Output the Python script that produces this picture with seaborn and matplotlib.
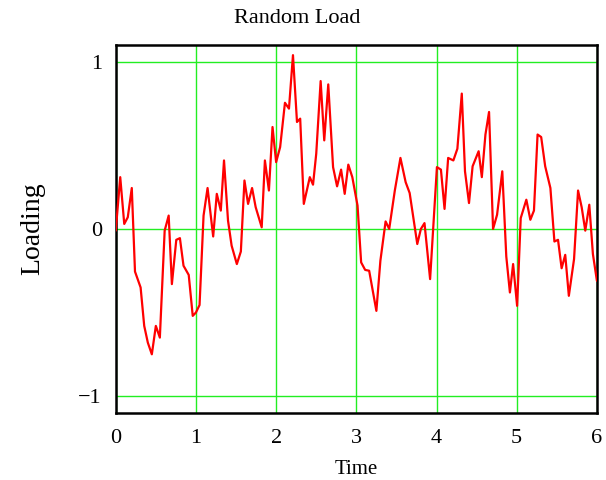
import matplotlib
matplotlib.use("Agg")
import matplotlib.pyplot as plt
import seaborn as sns
import pandas as pd

time = [0.0, 0.056, 0.106, 0.15, 0.2, 0.24, 0.31, 0.355, 0.40, 0.45, 0.50, 0.55, 0.61, 0.66, 0.70,
        0.755, 0.80, 0.845, 0.91, 0.96, 1.0, 1.045, 1.095, 1.145, 1.215, 1.26, 1.31, 1.35, 1.40,
        1.445, 1.51, 1.56, 1.605, 1.65, 1.70, 1.745, 1.82, 1.86, 1.91, 1.955, 2.0,
        2.05, 2.11, 2.16, 2.21, 2.26, 2.30, 2.345, 2.42, 2.46, 2.50, 2.555, 2.60, 2.65, 2.71,
        2.76, 2.81, 2.855, 2.90, 2.95, 3.015, 3.06, 3.11, 3.16, 3.25, 3.30, 3.365, 3.41, 3.48,
        3.55, 3.615, 3.665, 3.76, 3.805, 3.85, 3.92, 4.005, 4.055, 4.10, 4.145, 4.21, 4.26,
        4.315, 4.355, 4.405, 4.45, 4.525, 4.565, 4.61, 4.655, 4.705, 4.755, 4.82, 4.87, 4.915,
        4.955, 5.005, 5.05, 5.12, 5.17, 5.215, 5.26, 5.305, 5.355, 5.42, 5.47, 5.515, 5.56,
        5.605, 5.65, 5.715, 5.765, 5.81, 5.855, 5.905, 5.95, 6.0]
loading = [-0.01, 0.31, 0.03, 0.07, 0.245, -0.255, -0.35, -0.58, -0.68, -0.75, -0.58, -0.65, -0.01,
           0.08, -0.33, -0.065, -0.055, -0.22, -0.275, -0.52, -0.50, -0.455, 0.08, 0.245, -0.045,
           0.21, 0.11, 0.41, 0.05, -0.10, -0.21, -0.135, 0.29, 0.15, 0.245, 0.13, 0.01, 0.41, 0.23,
           0.61, 0.40,
           0.49, 0.755, 0.72, 1.04, 0.64, 0.66, 0.15, 0.31, 0.265, 0.45, 0.885, 0.53, 0.865, 0.37,
           0.255, 0.355, 0.21, 0.385, 0.31, 0.14, -0.20, -0.245, -0.25, -0.49, -0.19, 0.045, 0.0,
           0.23, 0.425, 0.28, 0.215, -0.09, 0.0, 0.035, -0.30, 0.37, 0.355, 0.12, 0.425, 0.41,
           0.48, 0.81, 0.345, 0.155, 0.375, 0.465, 0.31, 0.565, 0.70, 0.0, 0.085, 0.345, -0.165,
           -0.38, -0.21, -0.46, 0.065, 0.175, 0.055, 0.11, 0.565, 0.55, 0.375, 0.245, -0.075,
           -0.065, -0.235, -0.155, -0.40, -0.18, 0.23, 0.13, -0.01, 0.145, -0.15, -0.31]

xticks = [0, 1, 2, 3, 4, 5, 6]
yticks = [-1, 0, 1]

sns.set_style("white")
plt.rcParams['font.family'] = ['Liberation Serif', 'DejaVu Serif']
plt.rcParams['axes.unicode_minus'] = True
plt.rcParams['text.color'] = 'black'
plt.rcParams['axes.labelcolor'] = 'black'
plt.rcParams['xtick.color'] = 'black'
plt.rcParams['ytick.color'] = 'black'

fig = plt.figure(figsize=(6.06, 4.8), dpi=100)
ax = fig.add_axes([0.191, 0.140, 0.794, 0.766])

df = pd.DataFrame({"Time": time, "Loading": loading})
sns.lineplot(data=df, x="Time", y="Loading", color="red", lw=1.6, sort=False,
             estimator=None, ax=ax, zorder=3)

ax.set_xlim(0, 6)
ax.set_ylim(-1.1, 1.1)
ax.set_xticks(xticks)
ax.set_yticks(yticks)
ax.set_xticklabels([str(v) for v in xticks])
ax.set_yticklabels(["\u22121", "0", "1"])
ax.grid(True, color="#22ee22", lw=1.0)
ax.tick_params(axis="x", length=0, labelsize=16, pad=12)
ax.tick_params(axis="y", length=0, labelsize=16, pad=10)
for s in ax.spines.values():
    s.set_color("black")
    s.set_linewidth(1.8)

fig.text(0.49, 0.962, "Random Load", fontsize=16, ha="center", va="center")
ax.set_xlabel("Time", fontsize=15, labelpad=8)
ax.set_ylabel("Loading", fontsize=20, labelpad=24)

fig.savefig("out.png", dpi=100)
